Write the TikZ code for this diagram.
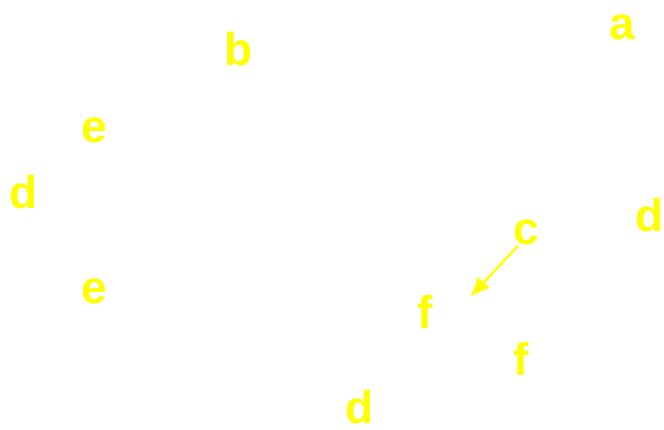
\documentclass[tikz,border=0pt]{standalone}
\usepackage{fontspec}
\setmainfont{Liberation Sans}
\usetikzlibrary{arrows.meta}
\definecolor{lbl}{HTML}{FFFF00}
\begin{document}
\begin{tikzpicture}[x=1pt,y=-1pt,
  lab/.style={inner sep=0pt,text=lbl,font=\bfseries\fontsize{46}{46}\selectfont},
  arr/.style={draw=lbl,line width=2.4pt,-{Latex[length=20pt,width=17pt]}}]
\useasboundingbox[fill=white] (0,0) rectangle (664,430);
\node[lab] (a) at (622,27) {a};
\node[lab] (b) at (239,49) {b};
\node[lab] (e1) at (94,130) {e};
\node[lab] (d1) at (24,192) {d};
\node[lab] (c) at (526,232) {c};
\node[lab] (d2) at (650,215) {d};
\node[lab] (e2) at (94,291) {e};
\node[lab] (f1) at (425,312) {f};
\node[lab] (f2) at (521,359) {f};
\node[lab] (d3) at (360,407) {d};
\coordinate (tip) at (470,297);
\draw[arr] ([xshift=5pt,yshift=-1pt]c.south west) -- (tip);
\end{tikzpicture}
\end{document}
